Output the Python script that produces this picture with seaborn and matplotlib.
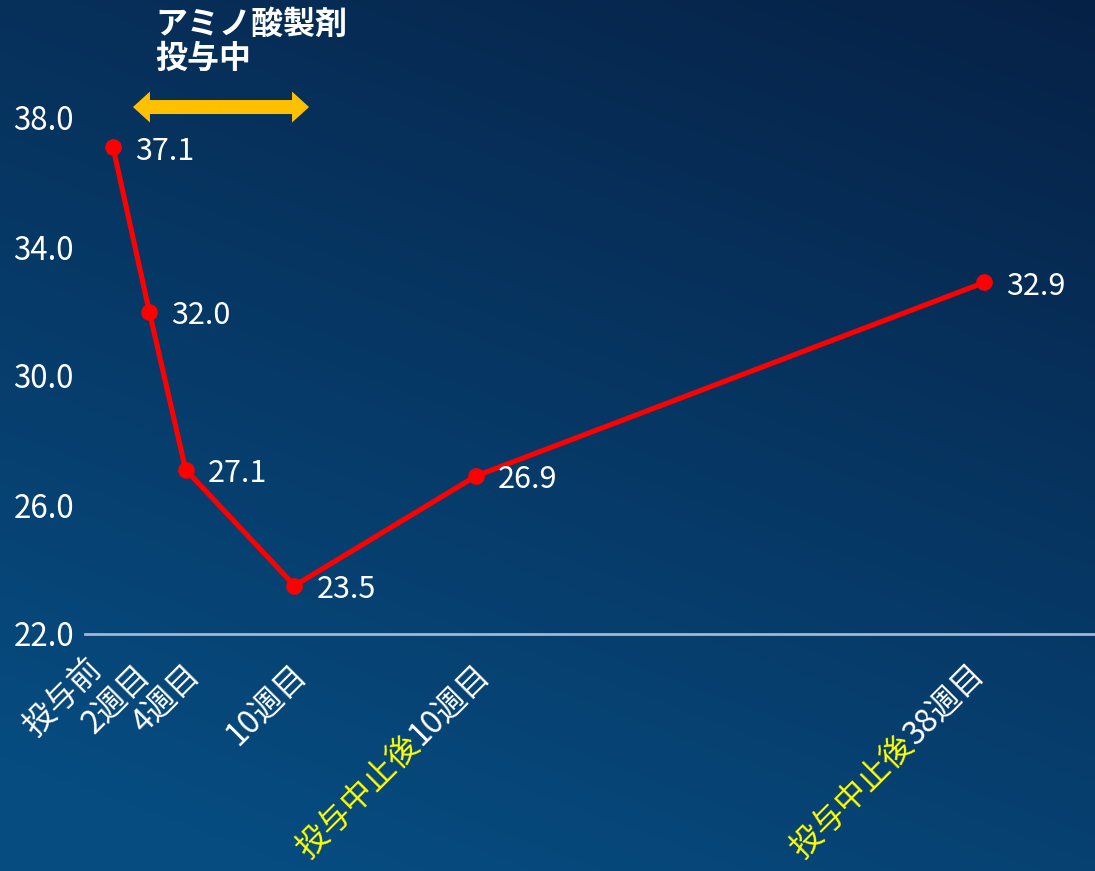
import matplotlib
matplotlib.use('Agg')
import matplotlib.pyplot as plt
import matplotlib.patches as mpatches
import numpy as np
import pandas as pd
import seaborn as sns

# ---- data ----
weeks = [0, 2, 4, 10, 20, 48]
values = [37.1, 32.0, 27.1, 23.5, 26.9, 32.9]
label_yellow = ['', '', '', '', '投与中止後', '投与中止後']
label_white = ['投与前', '2週目', '4週目', '10週目', '10週目', '38週目']
yticks = [22.0, 26.0, 30.0, 34.0, 38.0]
title_text = 'アミノ酸製剤\n投与中'
arrow_span = [1.1, 10.8]
arrow_level = 38.34

# ---- layout (pixel nudges of the rotated tick labels) ----
nudge_x = [-15, -2, 12, 9, 11, -3]
nudge_y = [6, 0, 0, 0, 0, 0]

sns.set_theme(style='white')
plt.rcParams['font.family'] = ['Noto Sans CJK JP', 'DejaVu Sans']

W, H, DPI = 1095, 871, 100
fig = plt.figure(figsize=(W / DPI, H / DPI), dpi=DPI)

# background gradient
bg = fig.add_axes([0, 0, 1, 1], zorder=-10)
yy, xx = np.mgrid[0:1:300j, 0:1:300j]
t = np.clip((yy * 0.75 + (1 - xx) * 0.35), 0, 1)
c0 = np.array([7, 33, 70]) / 255
c1 = np.array([6, 76, 128]) / 255
img = c0 + (c1 - c0) * t[..., None]
bg.imshow(img, aspect='auto', extent=[0, 1, 0, 1], origin='upper')
bg.axis('off')

ax = fig.add_axes([85 / W, (H - 634) / H, (W - 85) / W, 580.5 / H])
ax.patch.set_alpha(0)

df = pd.DataFrame({'week': weeks, 'value': values})
sns.lineplot(data=df, x='week', y='value', ax=ax, color='#FF0000', lw=3.7,
             marker='o', markersize=12, markeredgewidth=0, clip_on=False)

ax.set_xlim(-28 / 18.15, 982 / 18.15)
ax.set_ylim(22, 40)
ax.set_yticks(yticks)
ax.set_yticklabels([f'{v:.1f}' for v in yticks], color='white', fontsize=22.5)
ax.set_xticks(weeks)
ax.set_xticklabels([''] * len(weeks))
ax.tick_params(axis='both', length=0)
ax.tick_params(axis='y', pad=8)
ax.set_xlabel('')
ax.set_ylabel('')
for s in ['top', 'right', 'left']:
    ax.spines[s].set_visible(False)
ax.spines['bottom'].set_color('#a3b8d0')
ax.spines['bottom'].set_linewidth(2)
ax.grid(False)

# data labels
for w, v in zip(weeks, values):
    ax.annotate(f'{v:.1f}', (w, v), xytext=(22, -4), textcoords='offset pixels',
                va='center', ha='left', color='white', fontsize=22,
                annotation_clip=False)

# x tick labels (two-colour, rotated)
fs = 23
fig.canvas.draw()
r = fig.canvas.get_renderer()
c45 = np.cos(np.pi / 4)
for w, yl, wl, nx, ny in zip(weeks, label_yellow, label_white, nudge_x, nudge_y):
    bx, by = -2 + nx, -36 + ny
    ax.annotate(wl, (w, 22), xycoords='data', xytext=(bx, by), textcoords='offset pixels',
                rotation=45, rotation_mode='anchor', ha='right', va='center',
                color='white', fontsize=fs, annotation_clip=False)
    if yl:
        tmp = fig.text(0, 0, wl, fontsize=fs)
        wpx = tmp.get_window_extent(r).width
        tmp.remove()
        ax.annotate(yl, (w, 22), xycoords='data',
                    xytext=(bx - wpx * c45, by - wpx * c45),
                    textcoords='offset pixels', rotation=45, rotation_mode='anchor',
                    ha='right', va='center', color='#FFFF00', fontsize=fs,
                    annotation_clip=False)

# arrow (double-headed) built from two single arrows
mid = (arrow_span[0] + arrow_span[1]) / 2
for end in arrow_span:
    ax.add_patch(mpatches.FancyArrow(mid, arrow_level, end - mid, 0,
                                     width=14 / 32.25, head_width=31 / 32.25,
                                     head_length=17 / 18.15, length_includes_head=True,
                                     color='#FFC000', lw=0, clip_on=False))

ax.text((155 - 113) / 18.15, 39.33, title_text, ha='left', va='bottom',
        color='white', fontsize=23, fontweight='bold', linespacing=1.1,
        clip_on=False)

fig.savefig('out.png', dpi=DPI)
